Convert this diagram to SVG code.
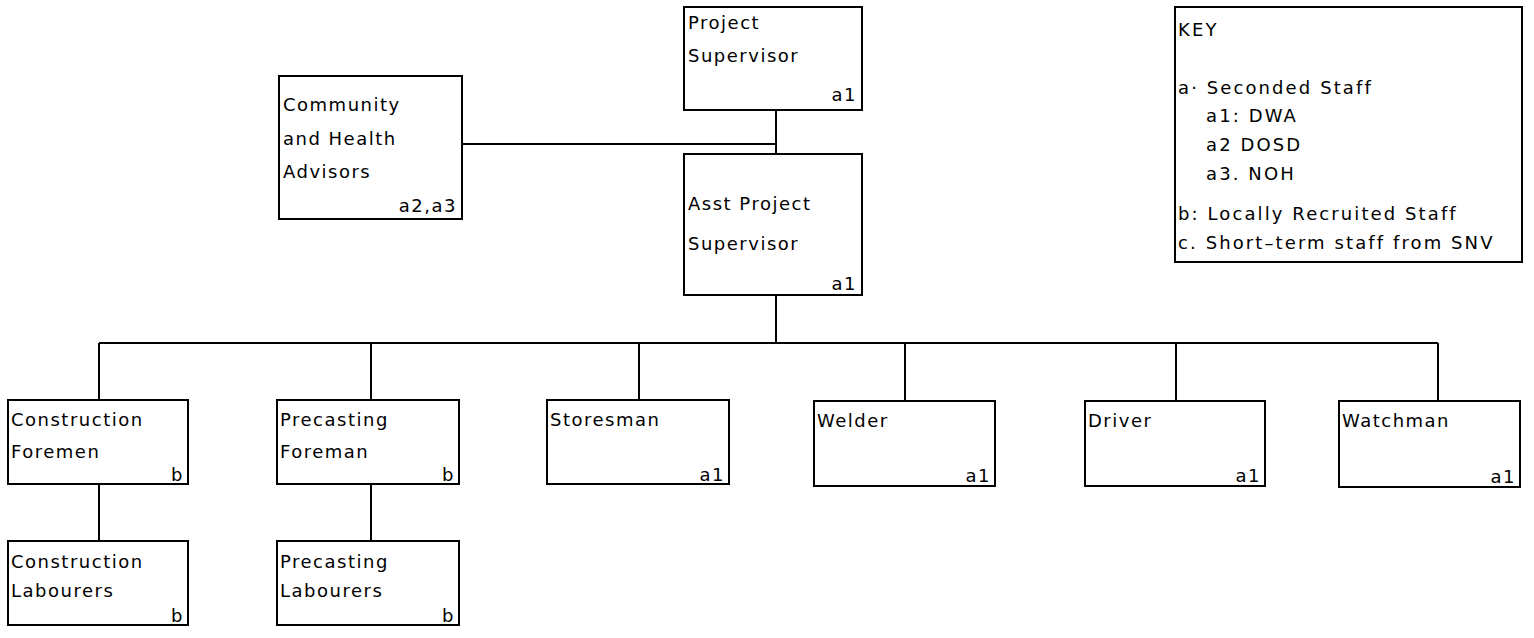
<svg xmlns="http://www.w3.org/2000/svg" width="1534" height="638" viewBox="0 0 1534 638">
<style>
.box{fill:#fff;stroke:#000;stroke-width:2}
.ln{fill:none;stroke:#000;stroke-width:2}
text{font-family:"DejaVu Sans","Liberation Sans",sans-serif;font-size:18px;fill:#000;letter-spacing:1.5px}
.k{letter-spacing:2.1px}
.r{text-anchor:end}
</style>
<rect width="1534" height="638" fill="#fff"/>
<g id="connectors">
<path class="ln" d="M462,144 H776 M776,110 V178 M776,295 V343 M99,343 H1438 M99,343 V400 M371,343 V400 M639,343 V400 M905,343 V401 M1176,343 V401 M1438,343 V401 M99,484 V541 M371,484 V541"/>
</g>
<g id="project-supervisor">
<rect class="box" x="684" y="7" width="178" height="103"/>
<text x="688" y="29">Project</text>
<text x="688" y="62">Supervisor</text>
<text class="r" x="857" y="101">a1</text>
</g>
<g id="community-health">
<rect class="box" x="279" y="76" width="183" height="143"/>
<text x="283" y="111">Community</text>
<text x="283" y="145">and Health</text>
<text x="283" y="178">Advisors</text>
<text class="r" x="457" y="212">a2,a3</text>
</g>
<g id="asst-project-supervisor">
<rect class="box" x="684" y="154" width="178" height="141"/>
<text x="688" y="210">Asst Project</text>
<text x="688" y="250">Supervisor</text>
<text class="r" x="857" y="290">a1</text>
</g>
<g id="key">
<rect class="box" x="1175" y="7" width="347" height="255"/>
<text class="k" x="1178" y="36">KEY</text>
<text class="k" x="1178" y="94">a· Seconded Staff</text>
<text class="k" x="1206" y="122">a1: DWA</text>
<text class="k" x="1206" y="151">a2  DOSD</text>
<text class="k" x="1206" y="180">a3. NOH</text>
<text class="k" x="1178" y="220">b: Locally Recruited Staff</text>
<text class="k" x="1178" y="249">c. Short–term staff from SNV</text>
</g>
<g id="construction-foremen">
<rect class="box" x="8" y="400" width="180" height="84"/>
<text x="11" y="426">Construction</text>
<text x="11" y="458">Foremen</text>
<text class="r" x="184" y="481">b</text>
</g>
<g id="construction-labourers">
<rect class="box" x="8" y="541" width="180" height="84"/>
<text x="11" y="568">Construction</text>
<text x="11" y="597">Labourers</text>
<text class="r" x="184" y="622">b</text>
</g>
<g id="precasting-foreman">
<rect class="box" x="277" y="400" width="182" height="84"/>
<text x="280" y="426">Precasting</text>
<text x="280" y="458">Foreman</text>
<text class="r" x="455" y="481">b</text>
</g>
<g id="precasting-labourers">
<rect class="box" x="277" y="541" width="182" height="84"/>
<text x="280" y="568">Precasting</text>
<text x="280" y="597">Labourers</text>
<text class="r" x="455" y="622">b</text>
</g>
<g id="storesman">
<rect class="box" x="547" y="400" width="182" height="84"/>
<text x="550" y="426">Storesman</text>
<text class="r" x="725" y="481">a1</text>
</g>
<g id="welder">
<rect class="box" x="814" y="401" width="181" height="85"/>
<text x="817" y="427">Welder</text>
<text class="r" x="991" y="482">a1</text>
</g>
<g id="driver">
<rect class="box" x="1085" y="401" width="180" height="85"/>
<text x="1088" y="427">Driver</text>
<text class="r" x="1261" y="482">a1</text>
</g>
<g id="watchman">
<rect class="box" x="1339" y="401" width="181" height="86"/>
<text x="1342" y="427">Watchman</text>
<text class="r" x="1516" y="483">a1</text>
</g>
</svg>
